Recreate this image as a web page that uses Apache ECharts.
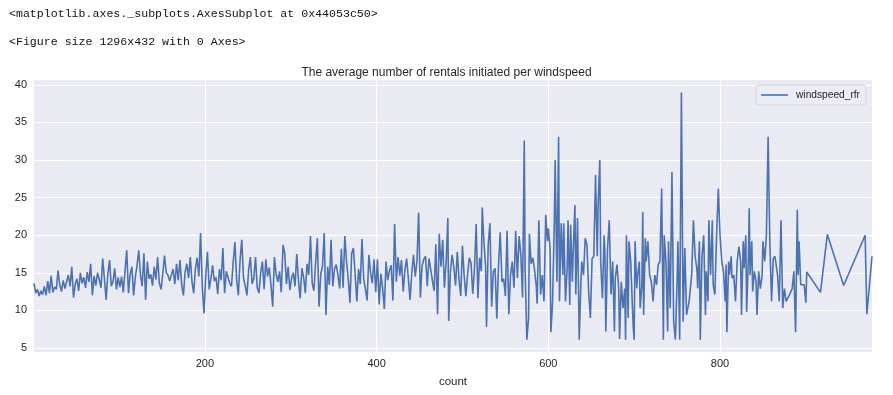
<!DOCTYPE html>
<html>
<head>
<meta charset="utf-8">
<script src="https://cdn.jsdelivr.net/npm/echarts@6/dist/echarts.min.js"></script>
<style>
html,body{margin:0;padding:0;background:#fff;}
#chart{width:893px;height:395px;}
</style>
</head>
<body>
<div id="chart"></div>
<script>
// x values ("count") and y values ("windspeed_rfr")
const counts = [
  1,3,5,7,9,11,13,15,17,19, 21,23,25,27,29,31,33,35,37,39, 41,43,45,47,49,51,53,55,57,59,
  61,63,65,67,69,71,73,75,77,79, 81,83,85,87,89,91,93,95,97,99,
  101,103,105,107,109,111,113,115,117,119, 121,123,125,127,129,131,133,135,137,139,
  141,143,145,147,149,151,153,155,157,159, 161,163,165,167,169,171,173,175,177,179,
  181,183,185,187,189,191,193,195,197,199,
  201,203,205,207,209,211,213,215,217,219, 221,223,225,227,229,231,233,235,237,239,
  241,243,245,247,249,251,253,255,257,259, 261,263,265,267,269,271,273,275,277,279,
  281,283,285,287,289,291,293,295,297,299,
  301,303,305,307,309,311,313,315,317,319, 321,323,325,327,329,331,333,335,337,339,
  341,343,345,347,349,351,353,355,357,359, 361,363,365,367,369,371,373,375,377,379,
  381,383,385,387,389,391,393,395,397,399,
  401,403,405,407,409,411,413,415,417,419, 421,423,425,427,429,431,433,435,437,439,
  441,443,445,447,449,451,453,455,457,459, 461,463,465,467,469,471,473,475,477,479,
  481,483,484,486,488,490,492,494,496,498,
  500,502,504,506,508,510,512,514,516,518, 520,522,523,525,527,528,530,532,534,536,
  538,540,542,544,546,548,550,552,554,556, 558,560,562,564,566,568,570,572,573,575,
  577,578,580,582,584,586,587,589,
  591,593,595,597,599,600,602,603,605,607, 608,610,612,613,615,617,618,620,622,623,
  625,626,628,629,631,632,634,636,638,639, 641,643,645,647,649,651,653,655,657,658,
  660,661,663,665,666,667,669,671,673,675, 677,678,680,682,683,685,687,689,
  690,691,693,694,696,698,699,700,701,703, 704,706,707,709,710,711,713,714,716,718,
  720,722,724,726,728,730,732,734,735,737, 739,740,742,744,746,748,750,751,753,755,
  757,759,761,764,767,769,771,773,774,776, 777,779,781,783,784,786,787,
  789,791,792,794,796,798,800,802,804,806, 807,808,810,811,813,814,816,818,820,822,
  824,825,827,828,830,831,833,834,835,837, 838,840,842,843,845,847,849,850,852,854,
  856,858,860,862,864,867,869,871,873,875, 877,881,884,886,888,
  890,891,892,893,894,896,898,900,901,917, 925,944,969,971,977
];
const windspeedRfr = [
  13.6,12.3,12.8,11.9,12.6,12.1,13.2,12.0,13.9,12.3, 14.6,12.4,13.1,12.8,15.3,13.4,12.5,14.0,12.9,13.8, 14.7,13.2,15.8,11.7,13.5,14.2,12.6,15.0,13.6,14.4,
  13.0,15.1,13.8,16.2,12.0,14.6,13.3,15.0,14.1,13.0, 16.9,14.2,11.4,14.8,16.7,13.2,13.8,15.6,12.8,14.4,
  13.1,14.5,12.4,15.2,18.0,12.3,14.8,15.8,12.0,14.4, 16.0,18.0,14.7,13.2,17.6,11.4,16.5,14.2,14.8,13.3,
  15.8,14.1,17.1,13.6,12.8,14.9,17.3,15.0,14.7,13.9, 14.7,15.5,13.5,16.2,14.0,16.7,13.4,12.0,15.1,16.2,
  14.3,17.1,13.8,12.3,15.6,17.0,14.5,20.3,13.2,9.6,
  14.6,17.8,12.8,14.2,16.0,13.9,14.4,12.2,15.5,14.0, 18.3,12.3,15.2,15.0,13.6,13.2,16.4,19.1,14.1,12.0,
  16.7,19.4,14.3,13.3,12.0,15.4,17.1,13.5,14.2,17.1, 13.0,12.3,15.0,16.5,12.8,16.8,14.5,15.7,13.4,10.5,
  17.1,14.8,13.8,15.2,12.4,18.7,17.6,13.5,15.8,12.7,
  14.3,15.0,13.2,17.5,14.0,11.6,15.6,14.4,12.3,16.2, 14.7,19.9,13.6,12.6,16.4,19.6,10.5,14.8,15.9,20.3,
  9.4,15.8,13.4,19.4,13.2,15.5,16.1,14.7,12.9,18.2, 13.0,19.9,16.5,14.2,11.0,17.6,18.3,14.8,11.2,15.5,
  13.5,19.5,14.2,12.8,11.3,17.4,15.0,13.6,16.8,12.4,
  16.8,10.8,14.9,13.0,10.2,16.5,14.0,15.3,16.0,11.3, 21.5,13.8,17.1,14.6,16.7,12.5,15.4,16.9,14.2,11.4,
  15.0,17.4,14.5,16.5,23.0,11.7,15.9,16.8,17.2,13.2, 16.9,15.5,14.0,12.6,18.8,9.5,20.2,15.8,19.4,13.0,
  16.4,22.3,8.6,15.2,17.4,15.7,13.3,17.8,14.1,11.9,
  18.6,14.6,11.9,14.8,17.0,16.3,12.2,15.5,21.5,11.6, 17.0,15.2,23.7,19.1,15.8,7.8,18.7,21.6,10.5,15.2,
  15.6,8.9,16.0,20.4,13.8,14.2,11.9,20.6,9.5,14.7, 16.5,13.0,20.6,14.3,19.9,17.4,11.7,32.6,15.4,6.1,
  9.0,20.2,16.2,17.0,15.4,13.2,10.9,22.0,
  12.1,14.7,11.2,22.7,19.2,20.9,18.3,7.1,11.2,21.8, 30.0,13.8,33.1,11.2,21.6,14.7,21.6,11.2,15.6,22.0,
  10.7,21.4,13.8,17.8,24.0,12.1,22.3,6.1,13.8,16.5, 14.7,19.6,18.7,12.5,9.0,16.9,17.2,28.0,17.2,24.0,
  30.0,16.5,11.6,20.0,17.2,7.2,18.3,22.0,12.1,16.5, 7.2,14.3,16.1,12.9,6.2,13.8,10.3,12.9,
  6.1,20.0,9.0,19.2,16.5,10.3,7.6,6.1,19.2,12.9, 14.7,16.5,10.3,13.4,23.1,9.4,19.6,16.5,19.2,14.7,
  13.8,11.2,14.7,13.4,16.1,16.5,26.2,6.1,20.0,16.5, 7.2,19.2,10.3,28.4,8.5,6.1,13.8,19.2,6.1,39.0,
  8.5,18.3,9.4,11.2,14.7,22.0,17.2,15.6,12.9,19.2, 6.1,17.2,20.0,9.4,15.2,11.2,22.0,
  14.7,22.0,13.4,12.1,20.0,26.2,20.0,16.5,15.2,11.2, 16.1,7.1,16.5,14.7,17.2,14.3,14.7,11.2,16.5,18.5,
  16.5,9.4,19.2,15.6,20.0,9.8,16.9,23.6,14.7,19.2, 12.5,15.2,13.8,9.4,15.2,12.9,14.7,19.2,16.5,20.0,
  33.1,19.2,11.2,16.9,17.2,14.7,11.2,22.0,10.3,12.9, 11.2,12.1,12.9,15.2,7.1,
  23.4,14.7,19.2,16.5,13.4,13.3,13.4,11.0,15.1,12.4, 20.1,13.3,20.0,9.5,17.2
];
const xTicks = [200, 400, 600, 800];
const yTicks = [5, 10, 15, 20, 25, 30, 35, 40];
const seriesName = 'windspeed_rfr';
const chartTitle = 'The average number of rentals initiated per windspeed';
const outLine1 = '<matplotlib.axes._subplots.AxesSubplot at 0x44053c50>';
const outLine2 = '<Figure size 1296x432 with 0 Axes>';

const data = counts.map((c, i) => [c, windspeedRfr[i]]);
const xMin = counts[0], xMax = counts[counts.length - 1];
const yLo = Math.min(...windspeedRfr), yHi = Math.max(...windspeedRfr);
const pad = (yHi - yLo) * 0.05;

const chart = echarts.init(document.getElementById('chart'), null, {renderer: 'canvas'});
const textColor = '#262626';
const lineColor = '#4C72B0';
chart.setOption({
  animation: false,
  backgroundColor: '#ffffff',
  title: [
    {text: outLine1, left: 4, top: 3, textStyle: {fontFamily: 'Liberation Mono', fontSize: 11.6, fontWeight: 'normal', color: '#111'}},
    {text: outLine2, left: 4, top: 31, textStyle: {fontFamily: 'Liberation Mono', fontSize: 11.6, fontWeight: 'normal', color: '#111'}},
    {text: chartTitle, left: 'center', top: 62, textStyle: {fontFamily: 'Liberation Sans', fontSize: 12, fontWeight: 'normal', color: textColor}}
  ],
  legend: {
    data: [{name: seriesName, icon: 'path://M0,0 L27,0 L27,1.6 L0,1.6 Z'}],
    right: 27, top: 85,
    padding: [5, 6, 5, 5],
    itemWidth: 27, itemHeight: 1.6,
    backgroundColor: 'rgba(236,236,244,0.85)',
    borderColor: '#d6d6de', borderWidth: 1, borderRadius: 3,
    itemStyle: {color: lineColor},
    textStyle: {fontFamily: 'Liberation Sans', fontSize: 10.2, color: textColor, padding: [1, 0, 1, 3]}
  },
  grid: {left: 34, right: 21, top: 80, bottom: 43, show: true, backgroundColor: '#EAEAF2', borderWidth: 0},
  xAxis: {
    type: 'value', min: xMin, max: xMax,
    name: 'count', nameLocation: 'middle', nameGap: 24,
    nameTextStyle: {fontFamily: 'Liberation Sans', fontSize: 11.5, color: textColor},
    axisLine: {show: false},
    axisTick: {show: false, customValues: xTicks},
    axisLabel: {customValues: xTicks, fontFamily: 'Liberation Sans', fontSize: 11, color: textColor, margin: 6},
    splitLine: {show: true, lineStyle: {color: '#ffffff', width: 1}}
  },
  yAxis: {
    type: 'value', min: +(yLo - pad).toFixed(2), max: +(yHi + pad).toFixed(2),
    axisLine: {show: false},
    axisTick: {show: false, customValues: yTicks},
    axisLabel: {customValues: yTicks, fontFamily: 'Liberation Sans', fontSize: 11, color: textColor, margin: 7},
    splitLine: {show: true, lineStyle: {color: '#ffffff', width: 1}}
  },
  series: [{
    name: seriesName,
    type: 'line',
    data: data,
    symbol: 'none',
    lineStyle: {color: lineColor, width: 1.6},
    itemStyle: {color: lineColor}
  }]
});
</script>
</body>
</html>
